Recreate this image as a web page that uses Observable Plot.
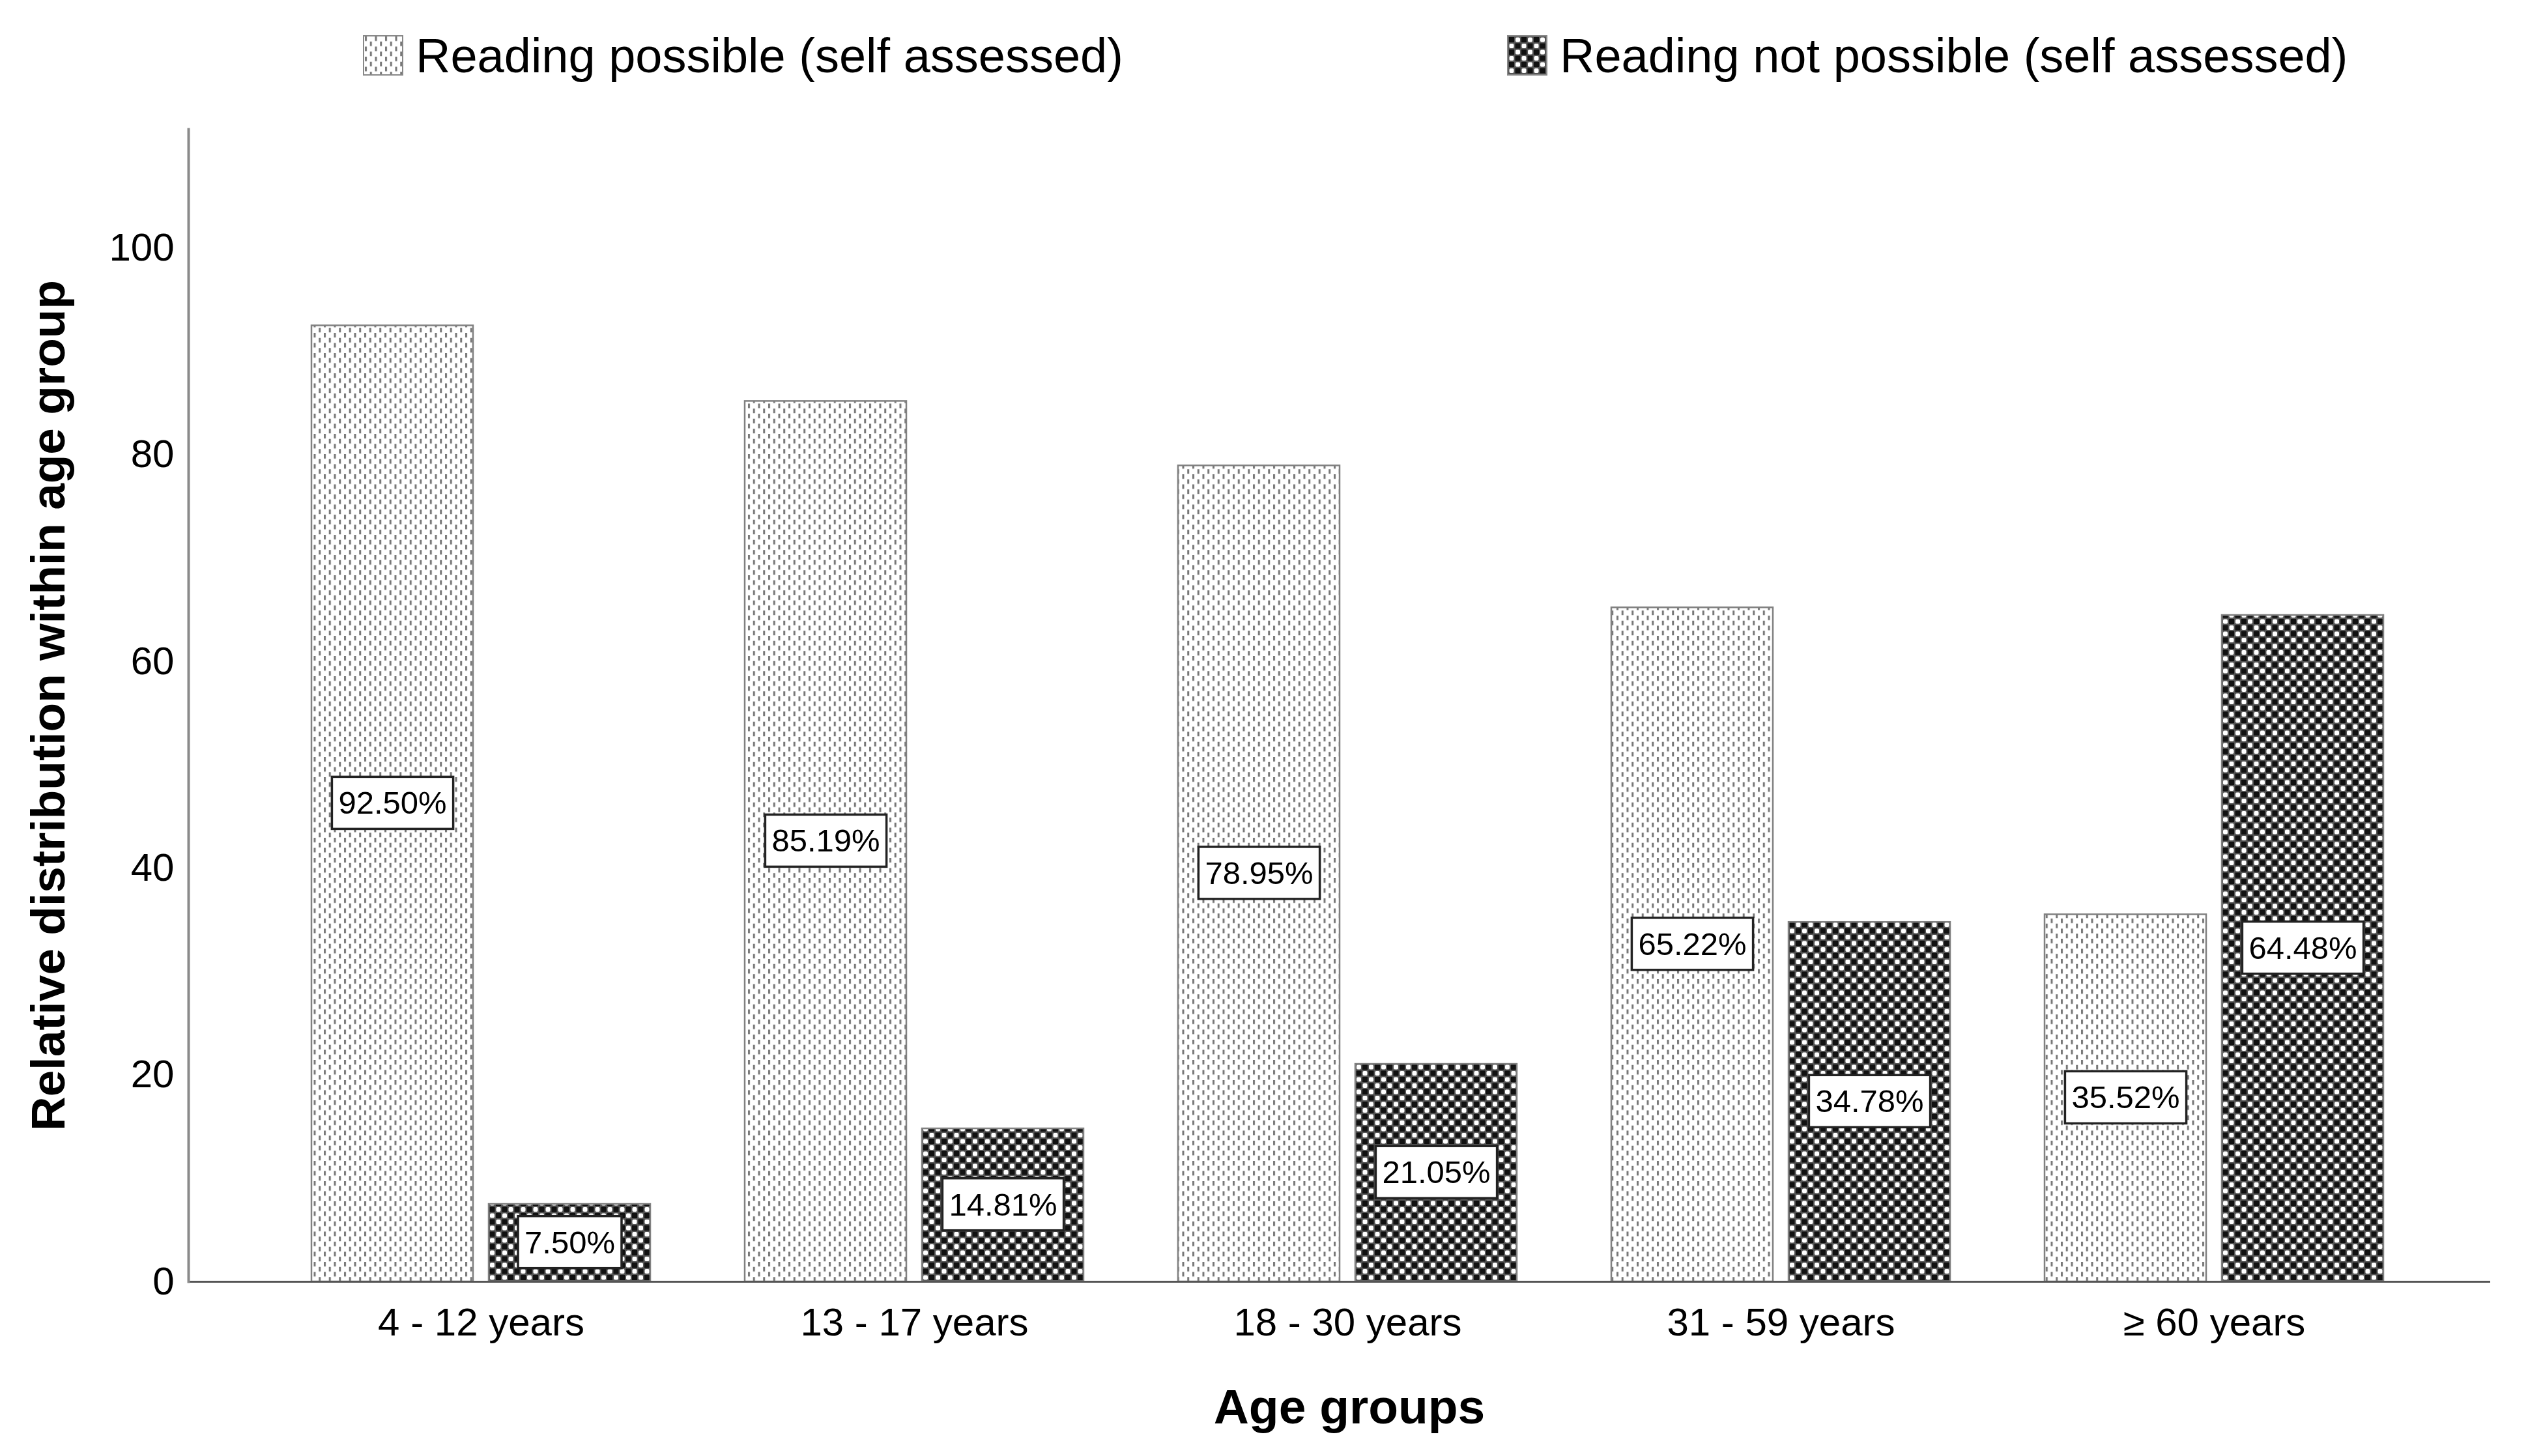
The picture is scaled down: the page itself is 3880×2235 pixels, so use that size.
<!DOCTYPE html>
<html><head><meta charset="utf-8">
<script src="https://cdn.jsdelivr.net/npm/d3@7"></script>
<script src="https://cdn.jsdelivr.net/npm/@observablehq/plot@0.6"></script>
<style>
html,body{margin:0;padding:0;background:#fff;}
body{width:3880px;height:2235px;overflow:hidden;font-family:"Liberation Sans",Arial,sans-serif;}
#legend{position:relative;height:170px;width:3880px;}
.item{position:absolute;top:54px;display:flex;align-items:center;height:62px;font-size:74px;color:#000;white-space:nowrap;}
.sw{width:58px;height:58px;border:2px solid #888;margin-right:19px;flex:none;}
#chart svg{display:block;}
</style></head><body>
<svg width="0" height="0" style="position:absolute">
<defs>
<pattern id="pLight" patternUnits="userSpaceOnUse" width="15.5" height="15.5">
<rect width="15.5" height="15.5" fill="#fff"/>
<rect x="1" y="0" width="3" height="7" fill="#777"/>
<rect x="8.75" y="7.75" width="3" height="7" fill="#777"/>
</pattern>
<pattern id="pDark" patternUnits="userSpaceOnUse" width="19" height="19">
<rect width="19" height="19" fill="#555"/>
<rect x="1" y="1" width="8" height="8" fill="#111"/>
<rect x="10.5" y="10.5" width="8" height="8" fill="#111"/>
<rect x="11" y="1.5" width="7" height="7" rx="2" fill="#fff"/>
<rect x="1.5" y="11" width="7" height="7" rx="2" fill="#fff"/>
</pattern>
</defs></svg>
<div id="legend"></div>
<div id="chart"></div>
<script>
const ages = ["4 - 12 years", "13 - 17 years", "18 - 30 years", "31 - 59 years", "≥ 60 years"];
const possible = [92.50, 85.19, 78.95, 65.22, 35.52];
const notPossible = [7.50, 14.81, 21.05, 34.78, 64.48];
const seriesNames = ["Reading possible (self assessed)", "Reading not possible (self assessed)"];
const yTicks = [0, 20, 40, 60, 80, 100];
const yTitle = "Relative distribution within age group";
const xTitle = "Age groups";

const lightRows = ages.map((a, i) => ({age: a, series: seriesNames[0], value: possible[i]}));
const darkRows = ages.map((a, i) => ({age: a, series: seriesNames[1], value: notPossible[i]}));

// legend
const legend = document.getElementById("legend");
const legendPos = [557, 2313];
const legendFill = ["url(#pLight)", "url(#pDark)"];
seriesNames.forEach((s, i) => {
  const it = document.createElement("div");
  it.className = "item";
  it.style.left = legendPos[i] + "px";
  const sw = document.createElement("div");
  sw.className = "sw";
  sw.innerHTML = `<svg width="58" height="58" style="display:block"><rect width="58" height="58" fill="${legendFill[i]}"/></svg>`;
  const tx = document.createElement("span");
  tx.textContent = s;
  it.appendChild(sw); it.appendChild(tx);
  legend.appendChild(it);
});

const fmt = d => d.value.toFixed(2) + "%";

const chart = Plot.plot({
  width: 3880,
  height: 2065,
  marginLeft: 289,
  marginRight: 58,
  marginTop: 28,
  marginBottom: 268,
  style: {fontFamily: '"Liberation Sans", Arial, sans-serif', color: "#000", background: "#fff"},
  x: {domain: ages, range: [301, 3834], paddingInner: 0.2186, paddingOuter: 0.2637, label: null},
  y: {domain: [0, 111.5], label: null},
  marks: [
    Plot.barY(lightRows, {x: "age", y: "value", fill: "url(#pLight)", stroke: "#808080", strokeWidth: 2.5, insetRight: 272}),
    Plot.barY(darkRows, {x: "age", y: "value", fill: "url(#pDark)", stroke: "#808080", strokeWidth: 2.5, insetLeft: 272}),
    Plot.ruleY([0], {stroke: "#555", strokeWidth: 3}),
    Plot.frame({anchor: "left", stroke: "#8a8a8a", strokeWidth: 4}),
    Plot.axisY({ticks: yTicks, tickSize: 0, tickPadding: 22, fontSize: 60, label: null}),
    Plot.axisX({tickSize: 0, tickPadding: 40, fontSize: 60, label: null}),
    Plot.text(lightRows, {x: "age", y: d => d.value / 2, text: fmt, dx: -136, fontSize: 49, fill: "#000"}),
    Plot.text(darkRows, {x: "age", y: d => d.value / 2, text: fmt, dx: 136, fontSize: 49, fill: "#000"}),
    Plot.text([yTitle], {text: d => d, frameAnchor: "left", textAnchor: "middle", lineAnchor: "middle", rotate: -90, dx: -214, fontSize: 73, fontWeight: "bold", fill: "#000"}),
    Plot.text([xTitle], {text: d => d, frameAnchor: "bottom", textAnchor: "middle", lineAnchor: "middle", dy: 193, dx: 15, fontSize: 75, fontWeight: "bold", fill: "#000"})
  ]
});
document.getElementById("chart").appendChild(chart);

// white boxes behind the value labels
const NS = "http://www.w3.org/2000/svg";
chart.querySelectorAll("text").forEach(t => {
  if (!/%$/.test(t.textContent.trim())) return;
  const b = t.getBBox();
  const r = document.createElementNS(NS, "rect");
  r.setAttribute("x", b.x - 10);
  r.setAttribute("y", b.y - 13);
  r.setAttribute("width", b.width + 20);
  r.setAttribute("height", b.height + 26);
  r.setAttribute("fill", "#fff");
  r.setAttribute("stroke", "#222");
  r.setAttribute("stroke-width", 3.5);
  const tr = t.getAttribute("transform");
  if (tr) r.setAttribute("transform", tr);
  t.parentNode.insertBefore(r, t);
});
</script>
</body></html>
